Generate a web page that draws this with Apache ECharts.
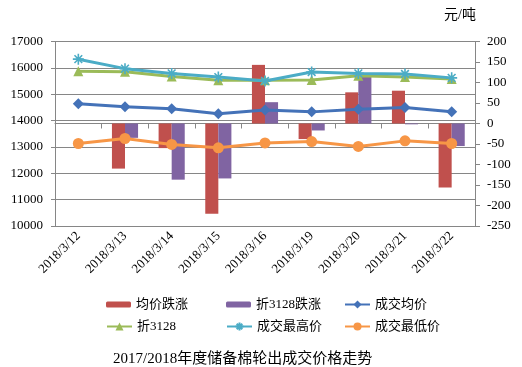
<!DOCTYPE html>
<html><head><meta charset="utf-8">
<script src="https://cdn.jsdelivr.net/npm/echarts@6/dist/echarts.min.js"></script>
<style>html,body{margin:0;padding:0;background:#fff}#c{width:522px;height:367px}</style>
</head><body><div id="c"></div>
<script>
var dates = ['2018/3/12','2018/3/13','2018/3/14','2018/3/15','2018/3/16','2018/3/19','2018/3/20','2018/3/21','2018/3/22'];
var avgChange = [null, -110, -60, -220, 143, -38, 76, 80, -156];
var foldChange = [null, -35, -137, -134, 52, -17, 119, -2, -55];
var avgPrice = [14640, 14525, 14450, 14255, 14400, 14330, 14425, 14500, 14335];
var fold3128 = [15870, 15850, 15670, 15530, 15530, 15540, 15700, 15650, 15580];
var highPrice = [16330, 15970, 15790, 15650, 15500, 15840, 15790, 15770, 15620];
var lowPrice = [13130, 13320, 13095, 12965, 13150, 13205, 13020, 13230, 13130];
var leftTicks = {min: 10000, max: 17000, interval: 1000};
var rightTicks = {min: -250, max: 200, interval: 50};
var names = ['均价跌涨','折3128跌涨','成交均价','折3128','成交最高价','成交最低价'];

var serif = '"Times New Roman","Liberation Serif","Noto Sans CJK SC",serif';
var star = 'path://M5,0L5,10M0,5L10,5M1.5,1.5L8.5,8.5M8.5,1.5L1.5,8.5';
var chart = echarts.init(document.getElementById('c'));
var legendPos = [[106,298],[226,298],[344,298],[106,320],[226,320],[344,320]];
var legends = names.map(function(n,i){
  return {data:[n], left:legendPos[i][0], top:legendPos[i][1], itemWidth:25, itemHeight:(i<2?6:10),
    textStyle:{fontFamily:serif, fontSize:13, color:'#000'}, selectedMode:false, padding:0};
});
function lineSeries(name, data, color, symbol, size){
  return {name:name, type:'line', yAxisIndex:0, data:data, symbol:symbol, symbolSize:size,
    lineStyle:{color:color, width:3}, itemStyle:{color:color, borderColor:color, borderWidth: symbol===star?1.6:0},
    emphasis:{disabled:true}};
}
chart.setOption({
  animation:false,
  textStyle:{fontFamily:serif},
  grid:{left:55, right:47, top:41.5, bottom:141},
  legend: legends,
  title:{text:'2017/2018年度储备棉轮出成交价格走势', left:108, top:347,
    textStyle:{fontFamily:serif, fontSize:15, fontWeight:'normal', color:'#000'}},
  graphic:[{type:'text', left:444, top:8, style:{text:'元/吨', font:'14px '+serif, fill:'#000'}}],
  xAxis:{type:'category', data:dates, boundaryGap:true,
    axisLine:{lineStyle:{color:'#868686'}},
    axisTick:{show:true, length:5, lineStyle:{color:'#868686'}},
    axisLabel:{rotate:45, interval:0, fontSize:13, color:'#000', fontFamily:serif, margin:8}},
  yAxis:[
    {type:'value', min:leftTicks.min, max:leftTicks.max, interval:leftTicks.interval,
     axisLine:{show:true, lineStyle:{color:'#868686'}},
     axisTick:{show:true, length:4, lineStyle:{color:'#868686'}},
     splitLine:{lineStyle:{color:'#868686'}},
     axisLabel:{fontSize:13, color:'#000', fontFamily:serif, margin:12, formatter:function(v){return String(v);}}},
    {type:'value', min:rightTicks.min, max:rightTicks.max, interval:rightTicks.interval,
     axisLine:{show:true, lineStyle:{color:'#868686'}},
     axisTick:{show:true, length:5, lineStyle:{color:'#868686'}},
     splitLine:{show:false},
     axisLabel:{fontSize:13, color:'#000', fontFamily:serif, margin:12, formatter:function(v){return String(v);}}}
  ],
  series:[
    {name:names[0], type:'bar', yAxisIndex:1, data:avgChange, barGap:'0%', barCategoryGap:'44%',
     itemStyle:{color:'#C0504D'}, emphasis:{disabled:true}},
    {name:names[1], type:'bar', yAxisIndex:1, data:foldChange, barGap:'0%', barCategoryGap:'44%',
     itemStyle:{color:'#8064A2'}, emphasis:{disabled:true}},
    lineSeries(names[2], avgPrice, '#4472B8', 'diamond', 11),
    lineSeries(names[3], fold3128, '#9BBB59', 'triangle', 10),
    lineSeries(names[4], highPrice, '#4BACC6', star, 11),
    lineSeries(names[5], lowPrice, '#F79646', 'circle', 11)
  ]
});
</script></body></html>
